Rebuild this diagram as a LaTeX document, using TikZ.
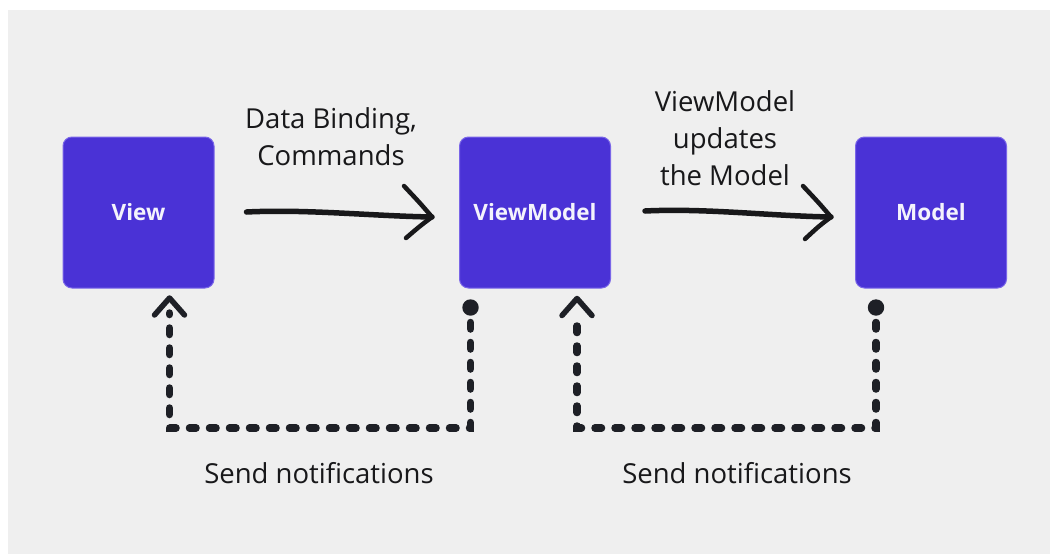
\documentclass[tikz,border=0pt]{standalone}
\usepackage{fontspec}
\setmainfont{Open Sans}
\usetikzlibrary{calc,arrows.meta}
\definecolor{bg}{RGB}{239,239,239}
\definecolor{boxc}{RGB}{74,50,214}
\definecolor{boxb}{RGB}{122,102,232}
\definecolor{ink}{RGB}{24,24,26}
\definecolor{conn}{RGB}{30,32,38}
\begin{document}
\begin{tikzpicture}[x=1pt,y=-1pt,
  box/.style={draw=boxb,line width=1pt,fill=boxc,rounded corners=9pt,minimum width=151pt,minimum height=151pt,inner sep=0pt,text=white!94!boxc,font=\fontsize{22.5}{26}\selectfont\bfseries},
  lbl/.style={text=ink,align=center,font=\fontsize{27.5}{37}\selectfont,inner sep=0pt},
  notif/.style={draw=conn,line width=7.5pt,line cap=round,dash pattern=on 6.5pt off 13.5pt},
  barb/.style={draw=conn,line width=5.5pt,line cap=round,line join=round},
  dotmark/.style={fill=conn},
  hand/.style={draw=ink,line width=5.5pt,line cap=round},
  handhead/.style={draw=ink,line width=4.5pt,line cap=round,line join=round}]
\fill[white] (0,0) rectangle (1051,554);
\useasboundingbox (0,0) rectangle (1051,554);
\fill[bg] (8,10) rectangle (1050,554);

\node[box] (view) at (138.5,212.5) {View};
\node[box] (vm) at (535,212.5) {ViewModel};
\node[box] (model) at (931,212.5) {Model};

\node[lbl] (l1) at (331,136.5) {Data Binding,\\Commands};
\node[lbl] (l2) at (725,138.5) {ViewModel\\updates\\the Model};
\node[lbl,anchor=base] (n1) at (319,483) {Send notifications};
\node[lbl,anchor=base] (n2) at (737,483) {Send notifications};

% hand-drawn arrows
\coordinate (s1) at ($(view.east)+(32,-0.5)$);
\coordinate (e1) at ($(vm.west)+(-27,4.5)$);
\draw[hand] (s1) .. controls ($(s1)+(60,-3)$) and ($(e1)+(-60,-1)$) .. (e1);
\draw[handhead] ($(e1)+(-28,-31)$) .. controls ($(e1)+(-12,-14)$) .. (e1) .. controls ($(e1)+(-12,9)$) .. ($(e1)+(-26,21)$);

\coordinate (s2) at ($(vm.east)+(34,-1.5)$);
\coordinate (e2) at ($(model.west)+(-24,4.5)$);
\draw[hand] (s2) .. controls ($(s2)+(60,-3)$) and ($(e2)+(-60,-1)$) .. (e2);
\draw[handhead] ($(e2)+(-28,-31)$) .. controls ($(e2)+(-12,-14)$) .. (e2) .. controls ($(e2)+(-12,9)$) .. ($(e2)+(-26,22)$);

% notification connectors
\coordinate (dA) at ($(vm.south west)+(11.5,19)$);
\coordinate (tA) at ($(view.south west)+(107,9.5)$);
\fill[dotmark] (dA) circle (8.2);
\draw[notif] ($(dA)+(0,15)$) |- ($(tA)+(0,130)$) -- ($(tA)+(0,15)$);
\draw[barb] ($(tA)+(-15,17)$) -- (tA) -- ($(tA)+(15,17)$);

\coordinate (dB) at ($(model.south west)+(21,19)$);
\coordinate (tB) at ($(vm.south west)+(118,10)$);
\fill[dotmark] (dB) circle (8.2);
\draw[notif] ($(dB)+(0,15)$) |- ($(tB)+(0,129.5)$) -- ($(tB)+(0,15)$);
\draw[barb] ($(tB)+(-15,17)$) -- (tB) -- ($(tB)+(15,17)$);
\end{tikzpicture}
\end{document}
